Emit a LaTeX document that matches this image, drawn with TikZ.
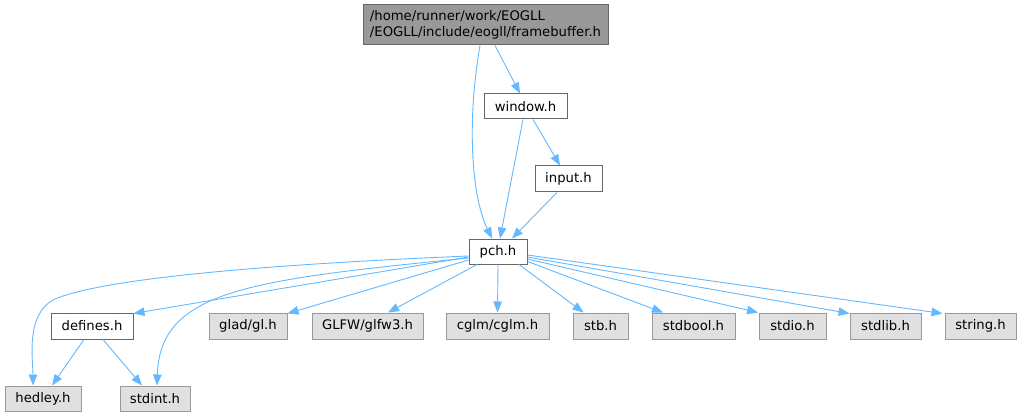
\documentclass[tikz,border=0pt]{standalone}
\usepackage{fontspec}
\setmainfont{DejaVu Sans}
\usetikzlibrary{arrows.meta}
\definecolor{edgeblue}{HTML}{63B8FF}
\definecolor{topfill}{HTML}{999999}
\definecolor{topdraw}{HTML}{666666}
\definecolor{sysfill}{HTML}{E0E0E0}
\definecolor{sysdraw}{HTML}{999999}
\tikzset{
  filebox/.style={draw=topdraw, fill=white, line width=1pt, minimum height=25pt, inner sep=0pt, font=\fontsize{13.2}{15}\selectfont},
  sysbox/.style={draw=sysdraw, fill=sysfill, line width=1pt, minimum height=25pt, inner sep=0pt, font=\fontsize{13.2}{15}\selectfont},
  rootbox/.style={draw=topdraw, fill=topfill, line width=1pt, minimum height=40pt, minimum width=245pt, inner sep=0pt, align=left, font=\fontsize{13.2}{16}\selectfont},
  dep/.style={draw=edgeblue, line width=0.9pt, -{Triangle[length=11pt,width=8.5pt]}}
}
\begin{document}
\begin{tikzpicture}[x=1pt,y=-1pt]
\useasboundingbox (0,0) rectangle (1021,417);
\node[rootbox] (root) at (485.5,25) {/home/runner/work/EOGLL\\/EOGLL/include/eogll/framebuffer.h};
\node[filebox, minimum width=83pt] (window) at (525.5,106.5) {window.h};
\node[filebox, minimum width=67pt, minimum height=26pt] (input) at (568.5,179) {input.h};
\node[filebox, minimum width=58pt] (pch) at (498,251.5) {pch.h};
\node[filebox, minimum width=82pt, minimum height=26pt] (defines) at (92,326) {defines.h};
\node[sysbox, minimum width=76pt] (hedley) at (43,398.5) {hedley.h};
\node[sysbox, minimum width=70pt] (stdint) at (155,398.5) {stdint.h};
\node[sysbox, minimum width=78pt, minimum height=26pt] (glad) at (248,326) {glad/gl.h};
\node[sysbox, minimum width=111pt, minimum height=26pt] (glfw) at (367.5,326) {GLFW/glfw3.h};
\node[sysbox, minimum width=103pt, minimum height=26pt] (cglm) at (497.5,326) {cglm/cglm.h};
\node[sysbox, minimum width=55pt, minimum height=26pt] (stb) at (600.5,326) {stb.h};
\node[sysbox, minimum width=83pt, minimum height=26pt] (stdbool) at (693.5,326) {stdbool.h};
\node[sysbox, minimum width=67pt, minimum height=26pt] (stdio) at (792.5,326) {stdio.h};
\node[sysbox, minimum width=71pt, minimum height=26pt] (stdlib) at (885.5,326) {stdlib.h};
\node[sysbox, minimum width=71pt, minimum height=26pt] (string) at (980.5,326) {string.h};

\draw[dep] ([xshift=9.5pt]root.south) -- ([xshift=-5.5pt]window.north);
\draw[dep] ([xshift=-5.5pt]root.south) .. controls (467,120) and (471,195) .. ([xshift=-6pt]pch.north);
\draw[dep] ([xshift=-2.5pt]window.south) -- ([xshift=2pt]pch.north);
\draw[dep] ([xshift=7.5pt]window.south) -- ([xshift=-8.5pt]input.north);
\draw[dep] ([xshift=-11.5pt]input.south) -- ([xshift=14pt]pch.north);

\draw[dep] ([yshift=-4.5pt]pch.west) .. controls (300,263) and (110,276) .. (55,299) .. controls (25,313) and (33,360) .. ([xshift=-10pt]hedley.north);
\draw[dep] ([yshift=-6.5pt]pch.west) .. controls (250,280) and (160,290) .. ([xshift=2pt]stdint.north);
\draw[dep] ([yshift=-5.5pt]pch.west) -- ([yshift=-1pt]defines.north east);
\draw[dep] ([yshift=-8.5pt]pch.west) -- ([yshift=-1pt]glad.north east);
\draw[dep] ([xshift=-21pt]pch.south) -- ([xshift=20.5pt]glfw.north);
\draw[dep] (pch.south) -- (cglm.north);
\draw[dep] ([xshift=21pt]pch.south) -- ([xshift=-17pt]stb.north);
\draw[dep] ([yshift=-10pt]pch.east) -- ([xshift=-30.5pt]stdbool.north);
\draw[dep] ([yshift=-7.5pt]pch.east) -- ([xshift=-34.5pt]stdio.north);
\draw[dep] ([yshift=-5.5pt]pch.east) -- ([yshift=-1pt]stdlib.north west);
\draw[dep] ([yshift=-3.5pt]pch.east) -- ([xshift=-2pt,yshift=-1pt]string.north west);

\draw[dep] ([xshift=-8pt]defines.south) -- ([xshift=9pt]hedley.north);
\draw[dep] ([xshift=11pt]defines.south) -- ([xshift=-13pt]stdint.north);
\end{tikzpicture}
\end{document}
